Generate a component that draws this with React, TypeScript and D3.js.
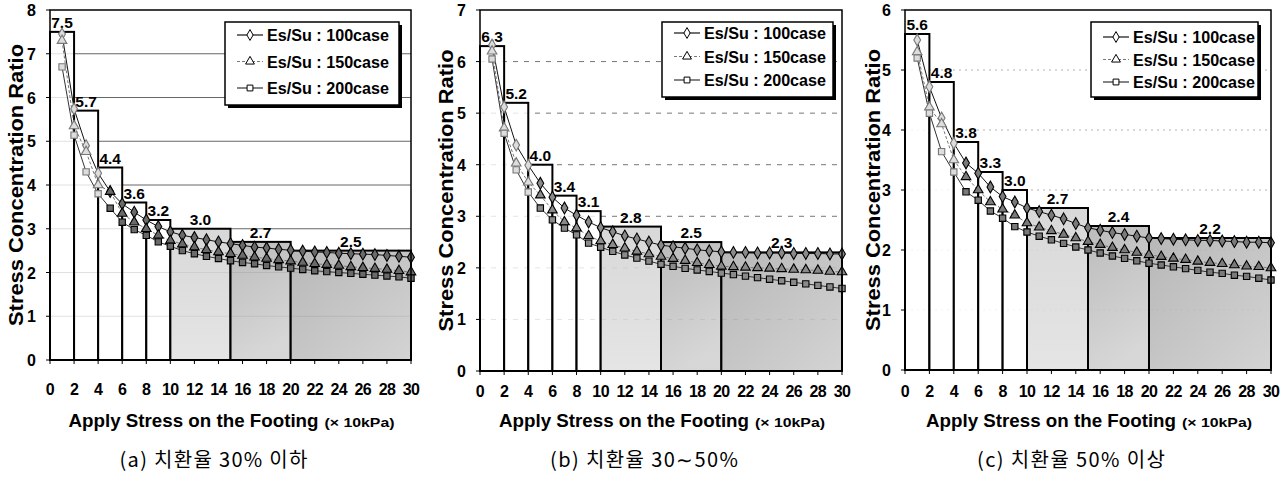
import React from "react";
import * as d3 from "d3";

// load steps where the three Es/Su cases were sampled (x 10kPa)
const loadSteps = [1, 2, 3, 4, 5, 6, 7, 8, 9, 10, 11, 12, 13, 14, 15, 16, 17, 18, 19, 20, 21, 22, 23, 24, 25, 26, 27, 28, 29, 30];
// step bars: edges on the load axis
const barEdges = [0, 2, 4, 6, 8, 10, 15, 20, 30];
const xTicks = [0, 2, 4, 6, 8, 10, 12, 14, 16, 18, 20, 22, 24, 26, 28, 30];
const seriesNames = ["Es/Su : 100case", "Es/Su : 150case", "Es/Su : 200case"];

// (a) replacement ratio <= 30%
const barsA = [7.5, 5.7, 4.4, 3.6, 3.2, 3.0, 2.7, 2.5];
const a100 = [7.45, 5.74, 4.9, 4.27, 3.85, 3.57, 3.38, 3.2, 3.05, 2.93, 2.85, 2.8, 2.75, 2.7, 2.66, 2.62, 2.58, 2.56, 2.53, 2.51, 2.49, 2.47, 2.46, 2.44, 2.43, 2.42, 2.41, 2.39, 2.37, 2.35];
const a150 = [7.3, 5.35, 4.76, 4.0, 3.85, 3.35, 3.15, 3.0, 2.85, 2.73, 2.65, 2.58, 2.52, 2.47, 2.43, 2.39, 2.35, 2.32, 2.29, 2.26, 2.23, 2.2, 2.18, 2.16, 2.13, 2.11, 2.09, 2.07, 2.04, 2.01];
const a200 = [6.7, 5.14, 4.3, 3.8, 3.47, 3.15, 2.98, 2.85, 2.7, 2.6, 2.5, 2.43, 2.37, 2.32, 2.27, 2.23, 2.2, 2.16, 2.13, 2.1, 2.07, 2.04, 2.02, 2.0, 1.98, 1.96, 1.94, 1.92, 1.9, 1.87];

// (b) 30 ~ 50%
const barsB = [6.3, 5.2, 4.0, 3.4, 3.1, 2.8, 2.5, 2.3];
const b100 = [6.32, 5.12, 4.38, 3.99, 3.64, 3.37, 3.16, 3.02, 2.89, 2.78, 2.7, 2.62, 2.56, 2.5, 2.44, 2.41, 2.38, 2.35, 2.33, 2.31, 2.3, 2.3, 2.29, 2.29, 2.29, 2.28, 2.28, 2.28, 2.27, 2.27];
const b150 = [6.2, 4.71, 4.03, 3.66, 3.41, 3.12, 2.89, 2.77, 2.62, 2.52, 2.45, 2.38, 2.32, 2.27, 2.22, 2.18, 2.14, 2.1, 2.06, 2.03, 2.02, 2.01, 2.0, 1.99, 1.98, 1.97, 1.96, 1.95, 1.93, 1.92];
const b200 = [6.05, 4.61, 3.9, 3.47, 3.16, 2.93, 2.77, 2.64, 2.48, 2.4, 2.32, 2.25, 2.19, 2.13, 2.07, 2.03, 1.99, 1.96, 1.93, 1.9, 1.87, 1.84, 1.81, 1.78, 1.75, 1.72, 1.69, 1.66, 1.63, 1.6];

// (c) >= 50%
const barsC = [5.6, 4.8, 3.8, 3.3, 3.0, 2.7, 2.4, 2.2];
const c100 = [5.5, 4.72, 4.2, 3.78, 3.45, 3.28, 3.05, 2.89, 2.8, 2.7, 2.64, 2.58, 2.52, 2.44, 2.37, 2.33, 2.29, 2.26, 2.23, 2.2, 2.19, 2.18, 2.17, 2.16, 2.16, 2.15, 2.14, 2.13, 2.13, 2.12];
const c150 = [5.3, 4.38, 4.1, 3.5, 3.22, 3.0, 2.8, 2.68, 2.58, 2.45, 2.38, 2.32, 2.26, 2.2, 2.14, 2.09, 2.04, 2.0, 1.96, 1.92, 1.89, 1.86, 1.84, 1.81, 1.79, 1.77, 1.75, 1.73, 1.72, 1.7];
const c200 = [5.2, 4.28, 3.64, 3.3, 2.97, 2.83, 2.65, 2.53, 2.39, 2.3, 2.23, 2.17, 2.11, 2.05, 2.0, 1.95, 1.9, 1.86, 1.82, 1.78, 1.75, 1.72, 1.69, 1.66, 1.63, 1.61, 1.58, 1.56, 1.53, 1.5];

const panels = [
  {
    id: "a", left: 50, right: 411, top: 10, bottom: 360, yMax: 8,
    bars: barsA, series: [a100, a150, a200], markFill: "#6a6a6a",
    legend: { x: 225, y: 22, w: 174, h: 83, row0: 35, step: 26.5 },
    yTitleX: 23, tickY: 395, caption: "(a) 치환율 30% 이하", grid: { color: "#555", dash: "" },
  },
  {
    id: "b", left: 480, right: 842, top: 10, bottom: 371, yMax: 7,
    bars: barsB, series: [b100, b150, b200], markFill: "#8a8a8a",
    legend: { x: 662, y: 22, w: 171, h: 75, row0: 33, step: 23.5 },
    yTitleX: 453, tickY: 397, caption: "(b) 치환율 30∼50%", grid: { color: "#666", dash: "5,6" },
  },
  {
    id: "c", left: 905, right: 1271, top: 10, bottom: 370, yMax: 6,
    bars: barsC, series: [c100, c150, c200], markFill: "#7a7a7a",
    legend: { x: 1091, y: 22, w: 167, h: 75, row0: 37, step: 22.5 },
    yTitleX: 880, tickY: 397, caption: "(c) 치환율 50% 이상", grid: { color: "#aaa", dash: "2,4" },
  },
];

const symbols = [d3.symbolDiamond, d3.symbolTriangle, d3.symbolSquare];
const lineStyles = [
  { stroke: "#111", dash: "" },
  { stroke: "#777", dash: "3,2" },
  { stroke: "#333", dash: "" },
];
const barFills = ["#fff", "#fff", "#fff", "#fff", "#fff", "url(#g1)", "url(#g2)", "url(#g3)"];
const bold = "'Liberation Sans', Arial, sans-serif";

function Panel({ p }) {
  const x = d3.scaleLinear().domain([0, 30]).range([p.left, p.right]);
  const y = d3.scaleLinear().domain([0, p.yMax]).range([p.bottom, p.top]);
  const yTicks = d3.range(0, p.yMax + 1);
  const line = d3.line().x((d, i) => x(loadSteps[i])).y(d => y(d));
  const cx = (p.left + p.right) / 2;
  const cy = (p.top + p.bottom) / 2;

  return (
    <g>
      {/* grid */}
      {yTicks.slice(1, -1).map(t => (
        <line key={t} x1={p.left} x2={p.right} y1={y(t)} y2={y(t)} stroke={p.grid.color} strokeWidth={0.9} strokeDasharray={p.grid.dash} />
      ))}
      {/* step bars */}
      {p.bars.map((v, i) => (
        <rect key={i} x={x(barEdges[i])} y={y(v)} width={x(barEdges[i + 1]) - x(barEdges[i])} height={p.bottom - y(v)}
          fill={barFills[i]} fillOpacity={i < 5 ? 0.8 : 0.9} stroke="#000" strokeWidth={2} />
      ))}
      {p.bars.map((v, i) => (
        <text key={"l" + i} x={(x(barEdges[i]) + x(barEdges[i + 1])) / 2} y={y(v) - 4} textAnchor="middle"
          fontFamily={bold} fontWeight="bold" fontSize={15.5}>{v.toFixed(1)}</text>
      ))}
      {/* series */}
      {p.series.map((s, k) => (
        <path key={"s" + k} d={line(s)} fill="none" stroke={lineStyles[k].stroke} strokeWidth={1} strokeDasharray={lineStyles[k].dash} />
      ))}
      {p.series.map((s, k) => s.map((v, i) => (
        <path key={k + "-" + i} transform={`translate(${x(loadSteps[i])},${y(v)})`} d={d3.symbol(symbols[k], 40)()}
          fill={i < 4 ? "#ddd" : p.markFill} stroke={i < 4 ? "#777" : "#000"} strokeWidth={1.1} />
      )))}
      {/* frame */}
      <rect x={p.left} y={p.top} width={p.right - p.left} height={p.bottom - p.top} fill="none" stroke="#000" strokeWidth={1.5} />
      {/* axes ticks */}
      {xTicks.map(t => (
        <g key={"x" + t}>
          <line x1={x(t)} x2={x(t)} y1={p.bottom} y2={p.bottom + 4} stroke="#000" />
          <text x={x(t)} y={p.tickY} textAnchor="middle" fontFamily={bold} fontWeight="bold" fontSize={16} letterSpacing={-0.6}>{t}</text>
        </g>
      ))}
      {yTicks.map(t => (
        <g key={"y" + t}>
          <line x1={p.left - 4} x2={p.left} y1={y(t)} y2={y(t)} stroke="#000" />
          <text x={p.left - 14} y={y(t) + 6} textAnchor="end" fontFamily={bold} fontWeight="bold" fontSize={16}>{t}</text>
        </g>
      ))}
      {/* legend */}
      <rect x={p.legend.x + 3} y={p.legend.y + 3} width={p.legend.w} height={p.legend.h} fill="#000" />
      <rect x={p.legend.x} y={p.legend.y} width={p.legend.w} height={p.legend.h} fill="#fff" stroke="#000" strokeWidth={1.5} />
      {seriesNames.map((n, k) => {
        const ry = p.legend.row0 + p.legend.step * k;
        const lx = p.legend.x + 12;
        return (
          <g key={n}>
            <line x1={lx} x2={lx + 26} y1={ry} y2={ry} stroke={lineStyles[k].stroke} strokeDasharray={lineStyles[k].dash} strokeWidth={1.2} />
            <path transform={`translate(${lx + 13},${ry})`} d={d3.symbol(symbols[k], 34)()} fill="#fff" stroke="#000" strokeWidth={1} />
            <text x={lx + 30} y={ry + 6} fontFamily={bold} fontWeight="bold" fontSize={16.5} textLength={122} lengthAdjust="spacingAndGlyphs">{n}</text>
          </g>
        );
      })}
      {/* titles */}
      <text transform={`translate(${p.yTitleX},${cy}) rotate(-90)`} textAnchor="middle" fontFamily={bold} fontWeight="bold" fontSize={20}
        textLength={282} lengthAdjust="spacingAndGlyphs">Stress Concentration Ratio</text>
      <text x={cx - 162} y={427} fontFamily={bold} fontWeight="bold" fontSize={19} textLength={250} lengthAdjust="spacingAndGlyphs">Apply Stress on the Footing</text>
      <text x={cx + 94} y={427} fontFamily={bold} fontWeight="bold" fontSize={12.5} textLength={70} lengthAdjust="spacingAndGlyphs">(× 10kPa)</text>
      <text x={cx - 17} y={467} textAnchor="middle" fontFamily="'Noto Sans CJK KR', sans-serif" fontSize={20}
        textLength={188} lengthAdjust="spacing">{p.caption}</text>
    </g>
  );
}

export default function App() {
  return (
    <svg width={1288} height={479} style={{ position: "absolute", left: 0, top: 0, background: "#fff" }}>
      <defs>
        <linearGradient id="g1" x1="0" y1="0" x2="0" y2="1">
          <stop offset="0" stopColor="#d4d4d4" />
          <stop offset="1" stopColor="#e2e2e2" />
        </linearGradient>
        <linearGradient id="g2" x1="0" y1="0" x2="0.3" y2="1">
          <stop offset="0" stopColor="#b4b4b4" />
          <stop offset="1" stopColor="#d2d2d2" />
        </linearGradient>
        <linearGradient id="g3" x1="0" y1="0" x2="1" y2="1">
          <stop offset="0" stopColor="#b0b0b0" />
          <stop offset="1" stopColor="#cfcfcf" />
        </linearGradient>
      </defs>
      <rect width={1288} height={479} fill="#fff" />
      {panels.map(p => <Panel key={p.id} p={p} />)}
    </svg>
  );
}
